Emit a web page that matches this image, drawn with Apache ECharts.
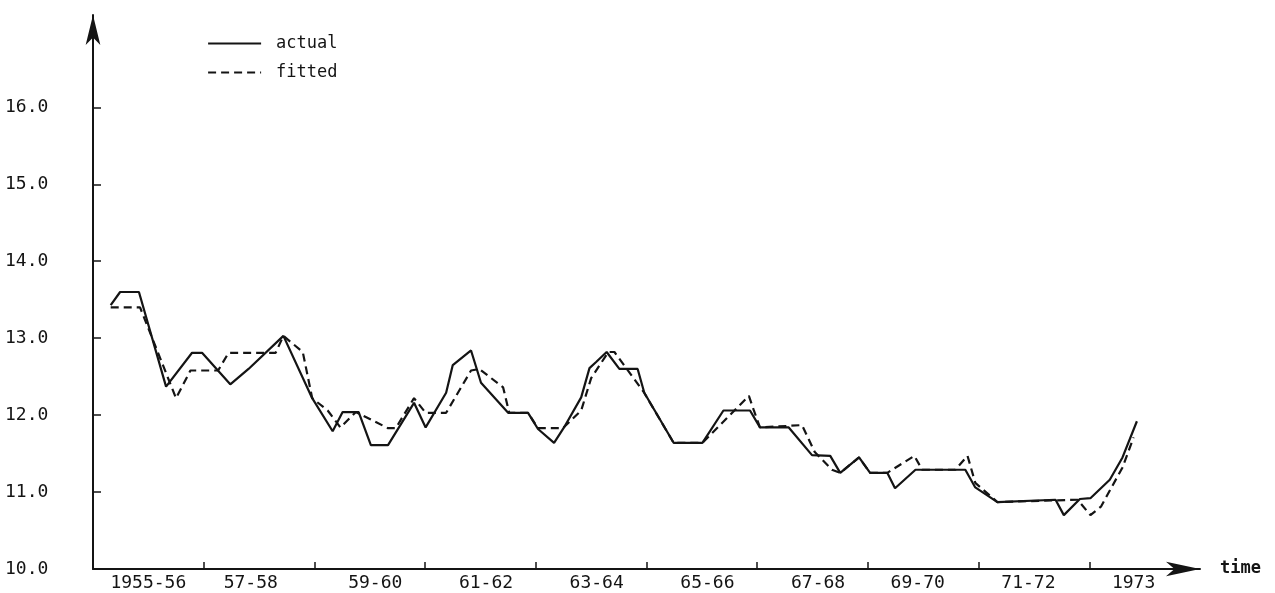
<!DOCTYPE html>
<html><head><meta charset="utf-8">
<script src="https://cdn.jsdelivr.net/npm/echarts@6/dist/echarts.min.js"></script>
<style>html,body{margin:0;padding:0;background:#fff}#c{width:1275px;height:593px}</style>
</head><body><div id="c"></div>
<script>
// Time in years (value axis)
const actualX = [1955.32,1955.49,1955.83,1956.32,1956.79,1956.97,1957.48,1957.81,1958.44,1958.96,1959.33,1959.51,1959.80,1960.02,1960.33,1960.80,1961.01,1961.38,1961.50,1961.83,1962.01,1962.50,1962.86,1963.04,1963.33,1963.51,1963.82,1963.97,1964.09,1964.28,1964.51,1964.84,1964.96,1965.49,1966.01,1966.39,1966.87,1967.05,1967.57,1967.99,1968.32,1968.50,1968.84,1969.04,1969.35,1969.49,1969.86,1970.76,1970.94,1971.34,1972.39,1972.54,1972.83,1973.02,1973.37,1973.60,1973.86];
const actualY = [13.43,13.60,13.60,12.37,12.81,12.81,12.40,12.60,13.03,12.22,11.79,12.04,12.04,11.61,11.61,12.16,11.84,12.29,12.65,12.84,12.42,12.03,12.03,11.82,11.64,11.84,12.23,12.61,12.69,12.82,12.60,12.60,12.29,11.64,11.64,12.06,12.06,11.84,11.84,11.48,11.47,11.25,11.45,11.25,11.25,11.05,11.29,11.29,11.06,10.87,10.90,10.70,10.91,10.92,11.16,11.45,11.92];
const fittedX = [1955.32,1955.85,1956.50,1956.76,1957.26,1957.45,1958.30,1958.44,1958.79,1958.96,1959.24,1959.47,1959.75,1960.33,1960.47,1960.80,1961.01,1961.38,1961.83,1961.98,1962.41,1962.52,1962.86,1963.04,1963.49,1963.82,1964.00,1964.31,1964.42,1964.95,1965.49,1966.01,1966.85,1966.94,1967.05,1967.81,1968.04,1968.35,1968.50,1968.84,1969.04,1969.35,1969.84,1969.98,1970.58,1970.80,1970.94,1971.34,1972.79,1973.02,1973.21,1973.60,1973.80];
const fittedY = [13.40,13.40,12.22,12.58,12.58,12.81,12.81,13.03,12.82,12.22,12.06,11.84,12.04,11.83,11.83,12.22,12.03,12.03,12.58,12.60,12.36,12.03,12.03,11.83,11.83,12.06,12.48,12.82,12.82,12.30,11.64,11.64,12.25,12.06,11.84,11.87,11.52,11.29,11.25,11.45,11.25,11.25,11.47,11.29,11.29,11.47,11.12,10.87,10.90,10.70,10.81,11.32,11.71];
const yTicks = [10,11,12,13,14,15,16];
const xTicks = [1957,1959,1961,1963,1965,1967,1969,1971,1973];
const xLabelPos = [1956.0,1957.85,1960.1,1962.1,1964.1,1966.1,1968.1,1969.9,1971.9,1973.8];
const xLabels = ['1955-56','57-58','59-60','61-62','63-64','65-66','67-68','69-70','71-72','1973'];
const seriesNames = ['actual','fitted'];

const MONO = '"DejaVu Sans Mono", "Liberation Mono", monospace';
const INK = '#141414';
const zip = (xs, ys) => xs.map((x, i) => [x, ys[i]]);

const chart = echarts.init(document.getElementById('c'));
chart.setOption({
  animation: false,
  backgroundColor: '#fff',
  grid: { left: 93, right: 75, top: 15, bottom: 24 },
  legend: {
    data: seriesNames, orient: 'vertical', left: 202, top: 30,
    itemWidth: 53, itemHeight: 14, itemGap: 12,
    itemStyle: { color: 'rgba(0,0,0,0)', borderWidth: 0, opacity: 0 },
    lineStyle: { color: INK, width: 2.2 },
    textStyle: { fontFamily: MONO, fontSize: 17, color: INK, padding: [0, 0, 0, 10] }
  },
  xAxis: {
    type: 'value', min: 1955, max: 1975,
    name: 'time', nameLocation: 'end', nameGap: 20,
    nameTextStyle: { fontFamily: MONO, fontSize: 17, fontWeight: 'bold', color: INK, verticalAlign: 'middle' },
    axisLine: { symbol: ['none', 'arrow'], symbolSize: [11, 34], lineStyle: { color: INK, width: 2 } },
    axisTick: { inside: true, length: 7, customValues: xTicks, lineStyle: { color: INK, width: 1.5 } },
    axisLabel: {
      customValues: xLabelPos, margin: 5, fontFamily: MONO, fontSize: 18, color: INK,
      formatter: v => { const i = xLabelPos.findIndex(p => Math.abs(p - v) < 1e-6); return i >= 0 ? xLabels[i] : ''; }
    },
    splitLine: { show: false }
  },
  yAxis: {
    type: 'value', min: 10, max: 17.2,
    axisLine: { show: true, symbol: ['none', 'arrow'], symbolSize: [11, 30], lineStyle: { color: INK, width: 2 } },
    axisTick: { show: true, inside: true, length: 8, customValues: yTicks, lineStyle: { color: INK, width: 1.5 } },
    axisLabel: { customValues: yTicks, align: 'left', margin: 88, fontFamily: MONO, fontSize: 18, color: INK, formatter: v => v.toFixed(1) },
    splitLine: { show: false }
  },
  series: [
    { name: seriesNames[0], type: 'line', data: zip(actualX, actualY), symbol: 'none',
      lineStyle: { color: INK, width: 2.2, type: 'solid' }, itemStyle: { color: INK } },
    { name: seriesNames[1], type: 'line', data: zip(fittedX, fittedY), symbol: 'none',
      lineStyle: { color: INK, width: 2.2, type: [8, 5] }, itemStyle: { color: INK } }
  ]
});
</script></body></html>
